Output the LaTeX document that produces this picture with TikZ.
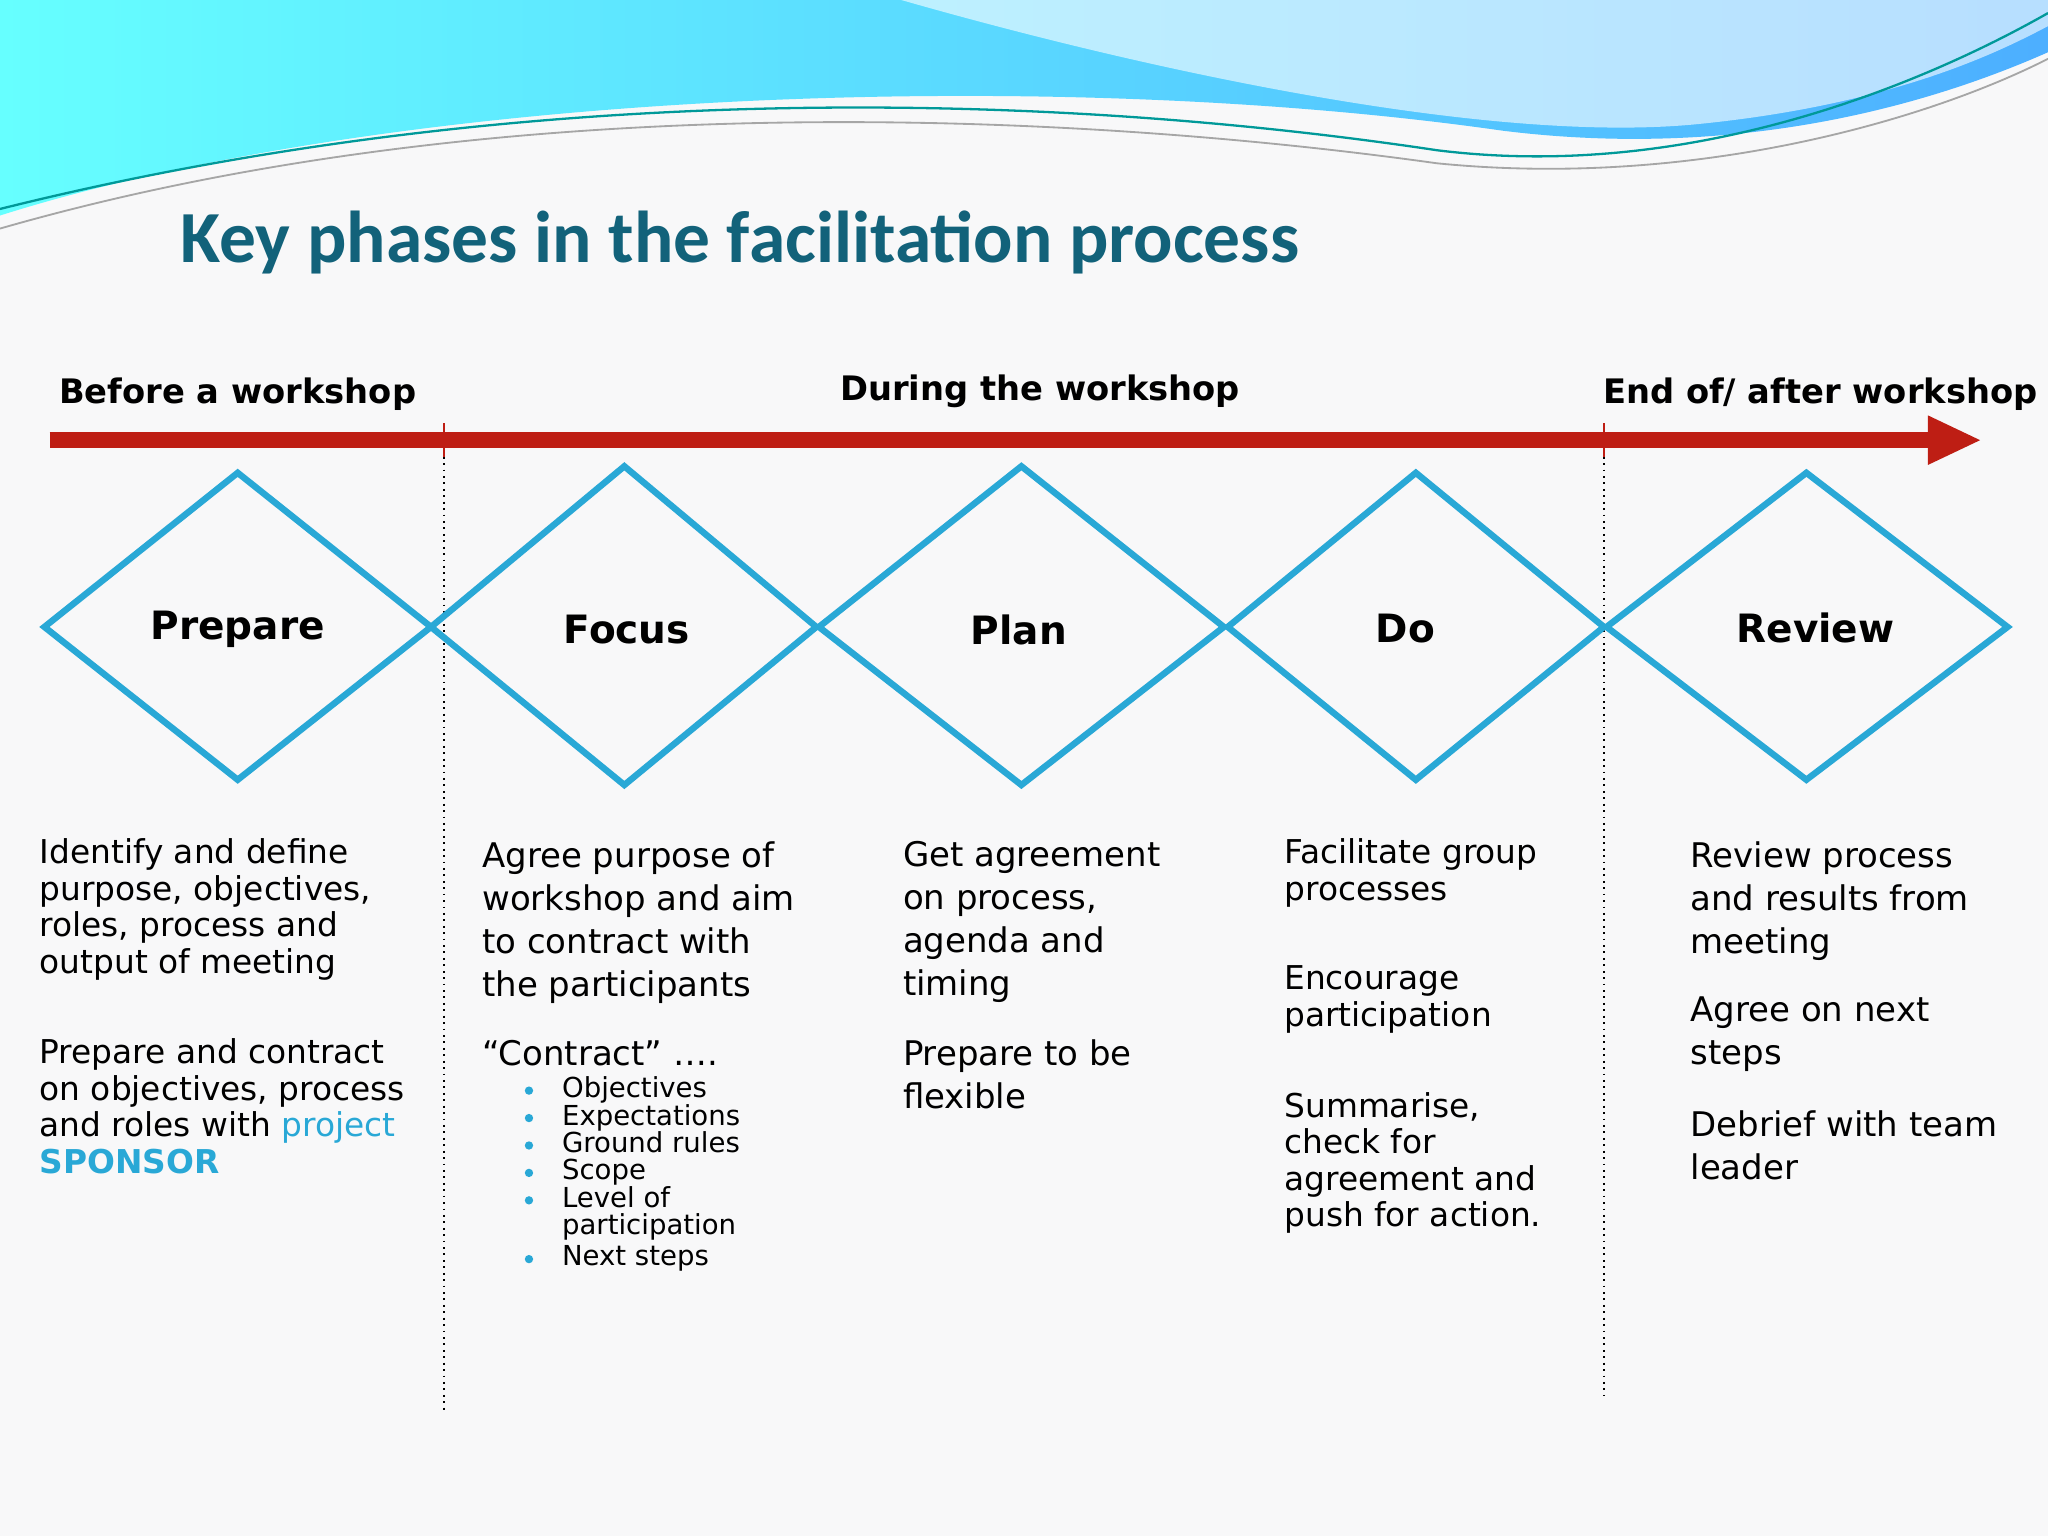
\documentclass[tikz,border=0pt]{standalone}
\usepackage{fontspec}
\setmainfont{DejaVu Sans}
\newfontfamily\titlefont{Carlito}
\definecolor{dia}{RGB}{41,168,214}
\definecolor{arr}{RGB}{190,30,20}
\definecolor{ttl}{RGB}{18,98,122}
\definecolor{bg}{RGB}{248,248,249}
\begin{document}
\begin{tikzpicture}[x=0.02cm,y=-0.02cm,
  dmd/.style={draw=dia,line width=2.8pt,line join=miter},
  dlab/.style={font=\fontsize{17}{19}\selectfont\bfseries},
  hdr/.style={font=\fontsize{14.7}{17}\selectfont\bfseries,anchor=base west,inner sep=0},
  body/.style={font=\fontsize{14.3}{15.9}\selectfont,anchor=north west,align=left,inner sep=0},
  bodyb/.style={font=\fontsize{14.8}{18.7}\selectfont,anchor=north west,align=left,inner sep=0},
  bul/.style={font=\fontsize{12}{11.9}\selectfont,anchor=north west,align=left,inner sep=0},
  vline/.style={dotted,line width=0.8pt}]
\useasboundingbox (0,0) rectangle (1568,1176);
\fill[bg] (0,0) rectangle (1568,1176);
% waves
\shade[left color=cyan!60!white,right color=blue!45!cyan!70!white] (0,0) -- (0,165) .. controls (300,70) and (800,50) .. (1150,100) .. controls (1350,125) and (1500,70) .. (1568,40) -- (1568,0) -- cycle;
\fill[white,opacity=0.6] (690,0) .. controls (900,60) and (1150,110) .. (1300,95) .. controls (1450,80) and (1530,40) .. (1568,20) -- (1568,0) -- cycle;
\draw[teal!80!cyan,line width=1pt] (0,160) .. controls (400,60) and (800,70) .. (1100,115) .. controls (1300,140) and (1480,60) .. (1568,10);
\draw[gray!70,line width=0.8pt] (0,175) .. controls (400,60) and (850,90) .. (1100,125) .. controls (1300,145) and (1480,90) .. (1568,45);
% title
\node[anchor=base west,inner sep=0,text=ttl,font=\titlefont\fontsize{32}{38}\selectfont\bfseries] (title) at (138,201) {Key phases in the facilitation process};
% headers
\node[hdr] (h1) at (45,309) {Before a workshop};
\node[hdr] (h2) at (643,307) {During the workshop};
\node[hdr] (h3) at (1227,309) {End of/ after workshop};
% dotted lines
\coordinate (d1a) at (340,330); \coordinate (d1b) at (340,1080);
\coordinate (d2a) at (1228,330); \coordinate (d2b) at (1228,1068);
\draw[vline] (d1a) -- (d1b);
\draw[vline] (d2a) -- (d2b);
% arrow
\coordinate (as) at (38,337); \coordinate (ae) at (1478,337);
\draw[arr,line width=6.8pt] (as) -- (ae);
\fill[arr] (1476,318) -- (1516,337) -- (1476,356) -- cycle;
\draw[arr,line width=1.2pt] (340,324) -- (340,350);
\draw[arr,line width=1.2pt] (1228,324) -- (1228,350);
% diamonds
\draw[dmd] (34,480) -- (182,362) -- (330,480) -- (182,597) -- cycle;
\draw[dmd] (330,480) -- (478,357) -- (625,480) -- (478,601) -- cycle;
\draw[dmd] (627,480) -- (782,357) -- (937,480) -- (782,601) -- cycle;
\draw[dmd] (940,480) -- (1084,362) -- (1228,480) -- (1084,597) -- cycle;
\draw[dmd] (1230,480) -- (1383,362) -- (1537,480) -- (1383,597) -- cycle;
\node[dlab] (p) at (182,482) {Prepare};
\node[dlab] (f) at (480,482) {Focus};
\node[dlab] (pl) at (780,482) {Plan};
\node[dlab] (d) at (1076,481) {Do};
\node[dlab] (r) at (1390,481) {Review};
% Prepare text
\node[body] (t1) at (30,642) {Identify and define\\purpose, objectives,\\roles, process and\\output of meeting};
\node[body] (t2) at (30,795) {Prepare and contract\\on objectives, process\\and roles with \textcolor{dia}{project}\\\textcolor{dia}{\bfseries SPONSOR}};
% Focus
\node[bodyb] (t3) at (369,644) {Agree purpose of\\workshop and aim\\to contract with\\the participants};
\node[bodyb] (t4) at (369,796) {“Contract” ….};
\foreach \y/\t in {840/Objectives,861/Expectations,882/Ground rules,903/Scope,924/Level of\\participation,969/Next steps}{
  \fill[dia] (405,\y-5) circle (3.2);
  \node[bul] at (430,\y-16) {\t};
}
% Plan
\node[bodyb] (t5) at (691,644) {Get agreement\\on process,\\agenda and\\timing};
\node[bodyb] (t6) at (691,796) {Prepare to be\\flexible};
% Do
\node[body] (t7) at (983,642) {Facilitate group\\processes};
\node[body] (t8) at (983,739) {Encourage\\participation};
\node[body] (t9) at (983,836) {Summarise,\\check for\\agreement and\\push for action.};
% Review
\node[bodyb] (t10) at (1294,644) {Review process\\and results from\\meeting};
\node[bodyb] (t11) at (1294,763) {Agree on next\\steps};
\node[bodyb] (t12) at (1294,850) {Debrief with team\\leader};
\end{tikzpicture}
\end{document}
